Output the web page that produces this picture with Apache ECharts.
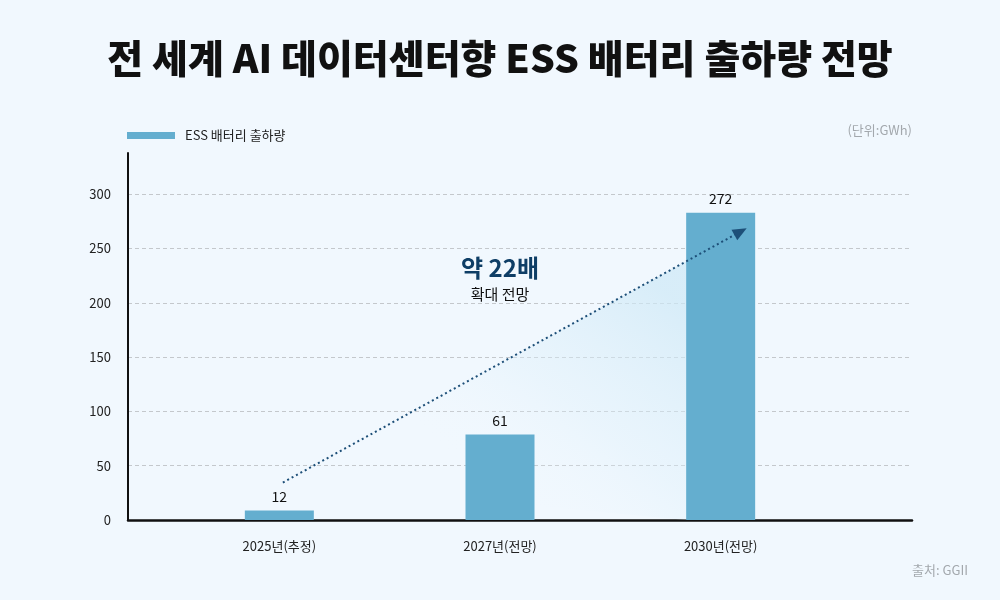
<!DOCTYPE html>
<html>
<head>
<meta charset="utf-8">
<script src="https://cdn.jsdelivr.net/npm/echarts@6/dist/echarts.min.js"></script>
<style>
  html, body { margin: 0; padding: 0; background: #f1f8fe; }
  #main { width: 1000px; height: 600px; }
</style>
</head>
<body>
<div id="main"></div>
<script>
// 데이터
var categories = ['2025년(추정)', '2027년(전망)', '2030년(전망)'];
var valueLabels = [12, 61, 272];        // 막대 위에 적힌 값
var barHeights = [8.7, 78.7, 283];      // 그림에서 읽은 막대 높이
var yTicks = [0, 50, 100, 150, 200, 250, 300];
var trendStart = [0.016, 34.5];         // 점선 화살표 시작 (카테고리 위치, 값)
var trendEnd = [2.09, 265.6];           // 점선 화살표 끝
var shadeEdgeX = 1.845;                 // 음영이 끝나는 위치 (세 번째 막대 왼쪽)

var FONT = '"Noto Sans CJK KR", "Noto Sans", sans-serif';
var chart = echarts.init(document.getElementById('main'));

function lineValueAt(x) {
    var t = (x - trendStart[0]) / (trendEnd[0] - trendStart[0]);
    return trendStart[1] + t * (trendEnd[1] - trendStart[1]);
}

var option = {
    backgroundColor: '#f1f8fe',
    textStyle: { fontFamily: FONT },
    title: {
        text: '전 세계 AI 데이터센터향 ESS 배터리 출하량 전망',
        left: 'center',
        top: 34,
        textStyle: { fontFamily: FONT, fontSize: 39, fontWeight: 900, color: '#111111' }
    },
    legend: {
        left: 122,
        top: 124,
        icon: 'rect',
        itemWidth: 48,
        itemHeight: 7,
        data: ['ESS 배터리 출하량'],
        textStyle: { fontFamily: FONT, fontSize: 13, color: '#222222', padding: [0, 0, 0, 5] }
    },
    grid: [
        { left: 128, right: 88, top: 153, bottom: 80 },
        { left: 169, right: 169, top: 153, bottom: 80 }
    ],
    xAxis: [
        {
            gridIndex: 0, type: 'value', min: 0, max: 1,
            axisLine: { show: true, onZero: false, lineStyle: { color: '#111111', width: 2.5 } },
            axisTick: { show: false }, axisLabel: { show: false }, splitLine: { show: false }
        },
        {
            gridIndex: 1, type: 'category', data: categories,
            axisLine: { show: false }, axisTick: { show: false },
            axisLabel: { margin: 20, fontFamily: FONT, fontSize: 13, color: '#222222' }
        },
        {
            gridIndex: 1, type: 'value', min: -0.5, max: 2.5, show: false
        }
    ],
    yAxis: [
        {
            gridIndex: 0, type: 'value', min: 0, max: 338, interval: 50,
            axisLine: { show: true, onZero: false, lineStyle: { color: '#111111', width: 2 } },
            axisTick: { show: false },
            axisLabel: {
                margin: 17, fontFamily: FONT, fontSize: 13, color: '#222222', showMaxLabel: false,
                formatter: function (v) { return yTicks.indexOf(v) >= 0 ? String(v) : ''; }
            },
            splitLine: { show: true, showMaxLine: false, lineStyle: { color: '#c4c8cc', type: [4, 3], width: 1 } }
        },
        {
            gridIndex: 1, type: 'value', min: 0, max: 338, show: false, splitLine: { show: false }
        }
    ],
    series: [
        {
            name: '추세',
            type: 'custom',
            xAxisIndex: 2,
            yAxisIndex: 1,
            silent: true,
            z: 1,
            data: [[trendStart[0], trendStart[1]]],
            renderItem: function (params, api) {
                var p0 = api.coord(trendStart);
                var p1 = api.coord([shadeEdgeX, lineValueAt(shadeEdgeX)]);
                var p2 = api.coord([shadeEdgeX, 0]);
                return {
                    type: 'polygon',
                    shape: { points: [p0, p1, p2] },
                    style: {
                        fill: new echarts.graphic.LinearGradient(0.85, 0, 0.35, 1, [
                            { offset: 0, color: 'rgba(205, 232, 246, 0.7)' },
                            { offset: 0.45, color: 'rgba(220, 239, 250, 0.35)' },
                            { offset: 0.8, color: 'rgba(241, 248, 254, 0)' }
                        ])
                    }
                };
            },
            markLine: {
                silent: true,
                symbol: ['none', 'triangle'],
                symbolSize: [12, 14],
                label: { show: false },
                lineStyle: { color: '#1d4f78', type: [2, 3], width: 2 },
                data: [[{ coord: trendStart }, { coord: trendEnd }]]
            }
        },
        {
            name: 'ESS 배터리 출하량',
            type: 'bar',
            xAxisIndex: 1,
            yAxisIndex: 1,
            barWidth: 69,
            z: 2,
            itemStyle: { color: '#64aecf' },
            label: {
                show: true,
                position: 'top',
                distance: 7,
                fontFamily: FONT,
                fontSize: 14,
                color: '#111111',
                formatter: function (p) { return String(valueLabels[p.dataIndex]); }
            },
            data: barHeights
        }
    ],
    graphic: [
        {
            type: 'text', right: 88, top: 124,
            style: { text: '(단위:GWh)', font: '13px ' + FONT, fill: '#a3a8ad' }
        },
        {
            type: 'text', right: 32, top: 564,
            style: { text: '출처: GGII', font: '13px ' + FONT, fill: '#a3a8ad' }
        },
        {
            type: 'text', x: 500, y: 268,
            style: { text: '약 22배', font: 'bold 24px ' + FONT, fill: '#0e3e66', align: 'center', verticalAlign: 'middle' }
        },
        {
            type: 'text', x: 500, y: 294,
            style: { text: '확대 전망', font: '15px ' + FONT, fill: '#111111', align: 'center', verticalAlign: 'middle' }
        }
    ]
};
chart.setOption(option);
</script>
</body>
</html>
